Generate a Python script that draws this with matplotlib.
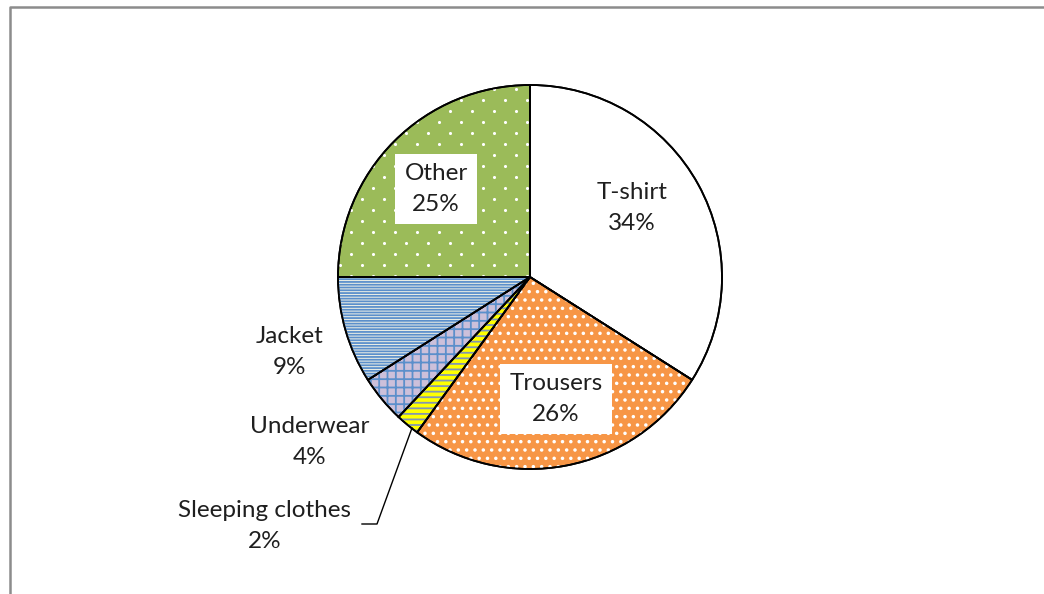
import numpy as np
import matplotlib.pyplot as plt
from matplotlib.patches import Wedge
from matplotlib.lines import Line2D

labels = ["T-shirt", "Trousers", "Sleeping clothes", "Underwear", "Jacket", "Other"]
shares = [34, 26, 2, 4, 9, 25]

face = ["white", "#F79646", "#FFFF00", "#CCC0DA", "#F2F2E6", "#9BBB59"]
hatch = [None, "..", "---", "++", "------", None]
hcolor = [None, "white", "#8497B0", "#5B8FCB", "#5B8FCB", None]

plt.rcParams["font.family"] = ["Lato", "DejaVu Sans"]
plt.rcParams["hatch.linewidth"] = 1.3

fig = plt.figure(figsize=(10.44, 5.94), dpi=100)
ax = fig.add_axes([0, 0, 1, 1])

cx, cy, r = 530, 317, 192

wedges, _ = ax.pie(shares, startangle=90, counterclock=False, radius=r,
                   center=(cx, cy), colors=face, frame=True,
                   wedgeprops=dict(edgecolor="black", linewidth=1.3))
ax.set_xlim(0, 1044)
ax.set_ylim(0, 594)
ax.set_aspect("equal")
ax.axis("off")

for w, h, hc in zip(wedges, hatch, hcolor):
    if h:
        hw = Wedge(w.center, w.r, w.theta1, w.theta2, facecolor="none",
                   edgecolor=hc, hatch=h, linewidth=0)
        ax.add_patch(hw)
    ow = Wedge(w.center, w.r, w.theta1, w.theta2, facecolor="none",
               edgecolor="black", linewidth=1.3, zorder=3)
    ax.add_patch(ow)

# sparse white dot pattern for "Other"
gx, gy = [], []
for i, yy in enumerate(np.arange(cy - 10, cy + r + 10, 11)):
    off = 11 if i % 2 else 0
    for xx in np.arange(cx - r - 20 + off, cx + 10, 22):
        gx.append(xx)
        gy.append(yy)
dots = ax.scatter(gx, gy, s=5, color="white", linewidths=0, zorder=2)
dots.set_clip_path(wedges[5])

fs = 17.5
ls = 1.55
tc = "#1f1f1f"
box = dict(boxstyle="square,pad=0.4", facecolor="white", edgecolor="none")
ax.text(632, 594 - 208, "T-shirt\n34%", ha="center", va="center", fontsize=fs,
        color=tc, linespacing=ls, zorder=5)
ax.text(556, 594 - 399, "Trousers\n26%", ha="center", va="center", fontsize=fs,
        color=tc, linespacing=ls, bbox=box, zorder=5)
ax.text(436, 594 - 189, "Other\n25%", ha="center", va="center", fontsize=fs,
        color=tc, linespacing=ls, bbox=box, zorder=5)
ax.text(290, 594 - 352, "Jacket\n9%", ha="center", va="center", fontsize=fs,
        color=tc, linespacing=ls, zorder=5)
ax.text(310, 594 - 442, "Underwear\n4%", ha="center", va="center", fontsize=fs,
        color=tc, linespacing=ls, zorder=5)
ax.text(265, 594 - 526, "Sleeping clothes\n2%", ha="center", va="center", fontsize=fs,
        color=tc, linespacing=ls, zorder=5)

ax.add_line(Line2D([362, 377, 412], [594 - 524, 594 - 524, 594 - 428],
                   color="black", linewidth=1.0, zorder=4))

# outer frame (only top and left visible)
ax.add_line(Line2D([10, 10, 1044], [0, 594 - 6.5, 594 - 6.5],
                   color="#8C8C8C", linewidth=1.8, zorder=6))

fig.savefig("out.png", dpi=100)
